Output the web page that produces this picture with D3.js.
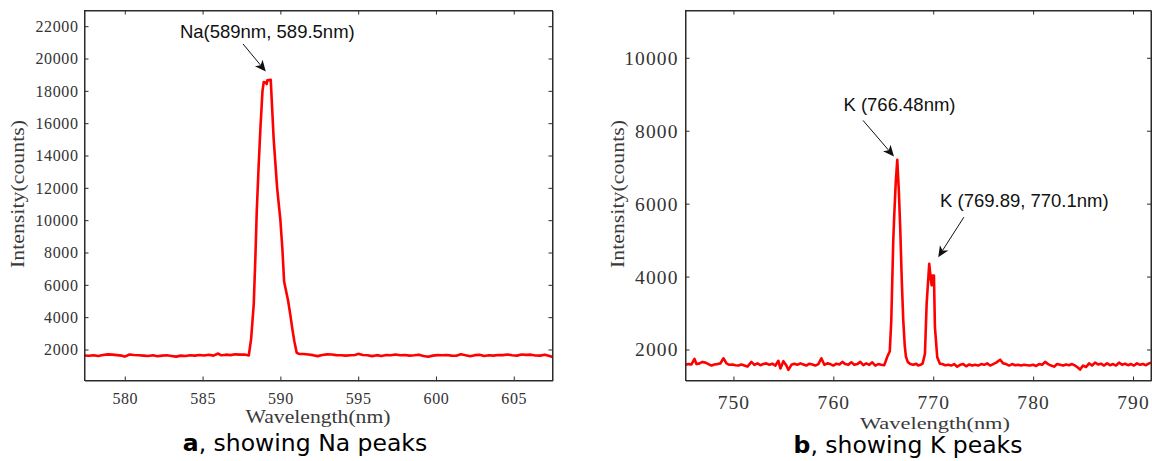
<!DOCTYPE html>
<html><head><meta charset="utf-8">
<script src="https://cdn.jsdelivr.net/npm/d3@7"></script>
<style>
body{margin:0;background:#fff;}
svg{display:block;}
</style></head><body>
<svg id="chart" width="1152" height="461"></svg>
<script>
// ---------- DATA ----------
const naWavelength = [577.4,577.7,578.0,578.3,578.6,578.9,579.2,579.5,579.8,580.0,580.3,580.6,580.9,581.2,581.5,581.8,582.1,582.4,582.7,583.0,583.3,583.6,583.9,584.2,584.5,584.8,585.1,585.4,585.7,586.0,586.2,586.5,586.8,587.1,587.4,587.7,587.97,588.12,588.29,588.40,588.48,588.6,588.72,588.85,588.93,589.08,589.12,589.16,589.38,589.57,589.79,590.0,590.13,590.24,590.35,590.5,590.66,590.78,590.9,591.05,591.2,591.5,591.8,592.1,592.4,592.7,593.0,593.3,593.6,593.9,594.2,594.5,594.8,595.0,595.3,595.6,595.9,596.2,596.5,596.8,597.1,597.4,597.7,598.0,598.3,598.6,598.9,599.2,599.5,599.8,600.1,600.4,600.7,601.0,601.3,601.6,601.9,602.2,602.5,602.8,603.1,603.4,603.7,604.0,604.3,604.6,604.9,605.2,605.5,605.8,606.1,606.4,606.7,607.0,607.3,607.5];
const naIntensity = [1630,1610,1640,1600,1660,1700,1680,1650,1620,1560,1690,1660,1640,1620,1600,1640,1580,1620,1640,1600,1560,1620,1600,1640,1620,1660,1630,1670,1620,1750,1640,1680,1650,1700,1680,1690,1630,2660,4830,7900,10500,13300,15750,18000,18550,18500,18420,18650,18680,15000,12000,10000,8200,6200,5700,5000,4000,3200,2500,1800,1730,1720,1690,1650,1590,1660,1700,1690,1650,1640,1620,1640,1660,1730,1660,1640,1590,1650,1600,1660,1640,1690,1640,1660,1620,1640,1680,1600,1550,1620,1650,1640,1660,1620,1610,1700,1640,1580,1650,1670,1600,1640,1620,1660,1650,1690,1640,1620,1690,1670,1680,1630,1620,1680,1600,1540];

const kWavelength = [745.2,745.5,745.8,746.1,746.3,746.6,746.9,747.2,747.5,747.8,748.1,748.4,748.7,749.0,749.3,749.6,749.9,750.2,750.5,750.8,751.1,751.4,751.8,752.1,752.4,752.7,753.0,753.3,753.6,753.9,754.2,754.5,754.7,755.0,755.3,755.5,755.8,756.1,756.4,756.7,757.0,757.3,757.6,757.9,758.2,758.5,758.8,759.1,759.4,759.7,760.0,760.3,760.6,760.9,761.2,761.5,761.8,762.1,762.4,762.7,763.0,763.3,763.6,763.9,764.2,764.5,764.8,765.1,765.4,765.65,765.8,765.9,766.0,766.1,766.25,766.4,766.55,766.7,766.85,767.0,767.15,767.27,767.45,767.7,768.0,768.3,768.5,768.75,768.94,769.17,769.34,769.6,769.74,769.84,769.94,770.07,770.17,770.4,770.67,770.9,771.2,771.5,771.8,772.1,772.4,772.7,773.0,773.3,773.6,773.9,774.2,774.5,774.8,775.1,775.4,775.7,776.0,776.3,776.7,777.0,777.3,777.6,777.9,778.2,778.5,778.8,779.1,779.4,779.7,780.0,780.3,780.6,780.9,781.2,781.5,781.8,782.1,782.4,782.7,783.0,783.3,783.6,783.9,784.2,784.5,784.7,785.0,785.3,785.6,785.9,786.2,786.5,786.8,787.1,787.4,787.7,788.0,788.3,788.6,788.9,789.2,789.5,789.8,790.1,790.4,790.7,791.0,791.3,791.6,791.8];
const kIntensity = [1580,1600,1590,1740,1600,1620,1660,1640,1600,1560,1590,1600,1620,1760,1620,1580,1590,1570,1560,1590,1560,1530,1660,1580,1620,1570,1600,1620,1580,1610,1560,1690,1480,1680,1560,1440,1580,1610,1580,1620,1590,1560,1610,1590,1560,1600,1760,1580,1620,1600,1560,1610,1590,1660,1600,1580,1650,1580,1600,1660,1570,1620,1580,1650,1560,1600,1580,1570,1800,1950,2800,3900,5000,5700,6600,7200,6400,5300,3900,2800,2100,1800,1660,1600,1580,1610,1560,1580,1620,1880,3250,4350,3980,3760,4030,4030,2610,1790,1610,1600,1570,1580,1560,1600,1530,1580,1600,1540,1590,1560,1580,1560,1600,1580,1620,1560,1600,1640,1720,1620,1600,1560,1600,1570,1580,1560,1580,1570,1560,1580,1550,1600,1580,1660,1600,1560,1530,1600,1580,1560,1590,1570,1600,1560,1500,1450,1560,1520,1620,1560,1640,1590,1610,1560,1620,1570,1600,1560,1640,1580,1610,1570,1600,1560,1620,1580,1600,1570,1620,1640];

const naXTicks = [580,585,590,595,600,605];
const naYTicks = [2000,4000,6000,8000,10000,12000,14000,16000,18000,20000,22000];
const kXTicks = [750,760,770,780,790];
const kYTicks = [2000,4000,6000,8000,10000];
const naXDomain = [577.41, 607.49];
const naYDomain = [82, 22970];
const kXDomain = [745.2, 791.8];
const kYDomain = [1150, 11297];

const naAnnLabels = ["Na(589nm, 589.5nm)"];
const naAnnText = [[589.16, 21240]];
const naAnnTail = [[587.6, 20900]];
const naAnnTip = [[589.06, 19200]];
const kAnnLabels = ["K (766.48nm)", "K (769.89, 770.1nm)"];
const kAnnText = [[766.62, 8530], [779.12, 5896]];
const kAnnTail = [[762.97, 8283], [773.07, 5630]];
const kAnnTip = [[766.07, 7295], [770.5, 4532]];

const xTitle = "Wavelength(nm)";
const yTitle = "Intensity(counts)";

// ---------- DRAW ----------
const svg = d3.select("#chart");
const axisColor = "#2b2b2b";
const serif = "'Liberation Serif','Times New Roman',serif";

function panel(cfg) {
  const {left, top, right, bottom} = cfg.box;
  const x = d3.scaleLinear().domain(cfg.xDomain).range([left, right]);
  const y = d3.scaleLinear().domain(cfg.yDomain).range([bottom, top]);
  const g = svg.append("g");

  const clipId = "clip" + cfg.id;
  svg.append("clipPath").attr("id", clipId).append("rect")
    .attr("x", left).attr("y", top).attr("width", right - left).attr("height", bottom - top);

  const line = d3.line().x((d, i) => x(cfg.xs[i])).y((d, i) => y(cfg.ys[i]));
  g.append("path").datum(cfg.ys).attr("d", line)
    .attr("clip-path", `url(#${clipId})`)
    .attr("fill", "none").attr("stroke", "#ff0000").attr("stroke-width", 2.6)
    .attr("stroke-linejoin", "round");

  const tl = cfg.tickLen;
  const ax = g.append("g").attr("transform", `translate(0,${bottom})`)
    .call(d3.axisBottom(x).tickValues(cfg.xTicks).tickSizeInner(-tl).tickSizeOuter(0).tickFormat(d3.format("d")));
  ax.selectAll("text").attr("dy", 0).attr("y", cfg.xLabelOffset);
  g.append("g").attr("transform", `translate(0,${top})`)
    .call(d3.axisTop(x).tickValues(cfg.xTicks).tickSizeInner(-tl).tickSizeOuter(0).tickFormat(""));
  const ay = g.append("g").attr("transform", `translate(${left},0)`)
    .call(d3.axisLeft(y).tickValues(cfg.yTicks).tickSizeInner(-tl).tickSizeOuter(0).tickFormat(d3.format("d")));
  ay.selectAll("text").attr("x", -cfg.yLabelOffset).attr("dy", "0.33em");
  g.append("g").attr("transform", `translate(${right},0)`)
    .call(d3.axisRight(y).tickValues(cfg.yTicks).tickSizeInner(-tl).tickSizeOuter(0).tickFormat(""));

  g.selectAll(".domain").attr("stroke", axisColor).attr("stroke-width", 1);
  g.selectAll(".tick line").attr("stroke", axisColor).attr("stroke-width", 1);
  g.selectAll(".tick text").attr("fill", "#333")
    .style("font-family", serif).style("font-size", cfg.tickFont + "px")
    .style("letter-spacing", cfg.tickSpacing + "px");

  g.append("rect").attr("x", left).attr("y", top).attr("width", right - left).attr("height", bottom - top)
    .attr("fill", "none").attr("stroke", axisColor).attr("stroke-width", 1);

  g.append("text").text(xTitle)
    .attr("x", cfg.xTitlePos[0]).attr("y", cfg.xTitlePos[1])
    .attr("text-anchor", "middle")
    .attr("textLength", cfg.xTitleLen).attr("lengthAdjust", "spacingAndGlyphs")
    .style("font-family", serif).style("font-size", cfg.xTitleFont + "px").attr("fill", "#3a3a3a");
  g.append("text").text(yTitle)
    .attr("transform", `translate(${cfg.yTitlePos[0]},${cfg.yTitlePos[1]}) rotate(-90)`)
    .attr("text-anchor", "middle")
    .attr("textLength", cfg.yTitleLen).attr("lengthAdjust", "spacingAndGlyphs")
    .style("font-family", serif).style("font-size", "18px").attr("fill", "#3a3a3a");

  cfg.annLabels.forEach((lab, i) => {
    g.append("text").text(lab)
      .attr("x", x(cfg.annText[i][0])).attr("y", y(cfg.annText[i][1]))
      .attr("text-anchor", "middle")
      .style("font-family", "'Liberation Sans',Arial,sans-serif").style("font-size", "18.5px")
      .attr("fill", "#111");
    const x1 = x(cfg.annTail[i][0]), y1 = y(cfg.annTail[i][1]);
    const x2 = x(cfg.annTip[i][0]), y2 = y(cfg.annTip[i][1]);
    const ang = Math.atan2(y2 - y1, x2 - x1);
    const L = 11, W = 5, notch = 3;
    const bx = x2 - L * Math.cos(ang), by = y2 - L * Math.sin(ang);
    const nx = x2 - (L - notch) * Math.cos(ang), ny = y2 - (L - notch) * Math.sin(ang);
    const px = -Math.sin(ang), py = Math.cos(ang);
    g.append("line").attr("x1", x1).attr("y1", y1).attr("x2", nx).attr("y2", ny)
      .attr("stroke", "#111").attr("stroke-width", 1);
    g.append("path")
      .attr("d", `M${x2},${y2}L${bx + W * px},${by + W * py}L${nx},${ny}L${bx - W * px},${by - W * py}Z`)
      .attr("fill", "#111");
  });
}

panel({
  id: "na", box: {left: 84.5, top: 10.5, right: 552.5, bottom: 380.5},
  xDomain: naXDomain, yDomain: naYDomain, xs: naWavelength, ys: naIntensity,
  xTicks: naXTicks, yTicks: naYTicks, tickLen: 4,
  tickFont: 16, tickSpacing: 0.6, xLabelOffset: 23, yLabelOffset: 6,
  xTitleFont: 18, xTitlePos: [318, 423], xTitleLen: 145, yTitlePos: [24, 194], yTitleLen: 148,
  annLabels: naAnnLabels, annText: naAnnText, annTail: naAnnTail, annTip: naAnnTip
});
panel({
  id: "k", box: {left: 685.5, top: 10.5, right: 1151, bottom: 380.5},
  xDomain: kXDomain, yDomain: kYDomain, xs: kWavelength, ys: kIntensity,
  xTicks: kXTicks, yTicks: kYTicks, tickLen: 4,
  tickFont: 19.5, tickSpacing: 1.1, xLabelOffset: 28.5, yLabelOffset: 7,
  xTitleFont: 17, xTitlePos: [935, 429], xTitleLen: 150, yTitlePos: [624, 194], yTitleLen: 148,
  annLabels: kAnnLabels, annText: kAnnText, annTail: kAnnTail, annTip: kAnnTip
});

const captions = [
  {bold: "a", rest: ", showing Na peaks", x: 305, y: 451},
  {bold: "b", rest: ", showing K peaks", x: 908, y: 453}
];
captions.forEach(c => {
  const t = svg.append("text").attr("x", c.x).attr("y", c.y).attr("text-anchor", "middle")
    .style("font-family", "'DejaVu Sans',Verdana,sans-serif").style("font-size", "23.5px").attr("fill", "#000");
  t.append("tspan").attr("font-weight", "bold").text(c.bold);
  t.append("tspan").text(c.rest);
});
</script>
</body></html>
